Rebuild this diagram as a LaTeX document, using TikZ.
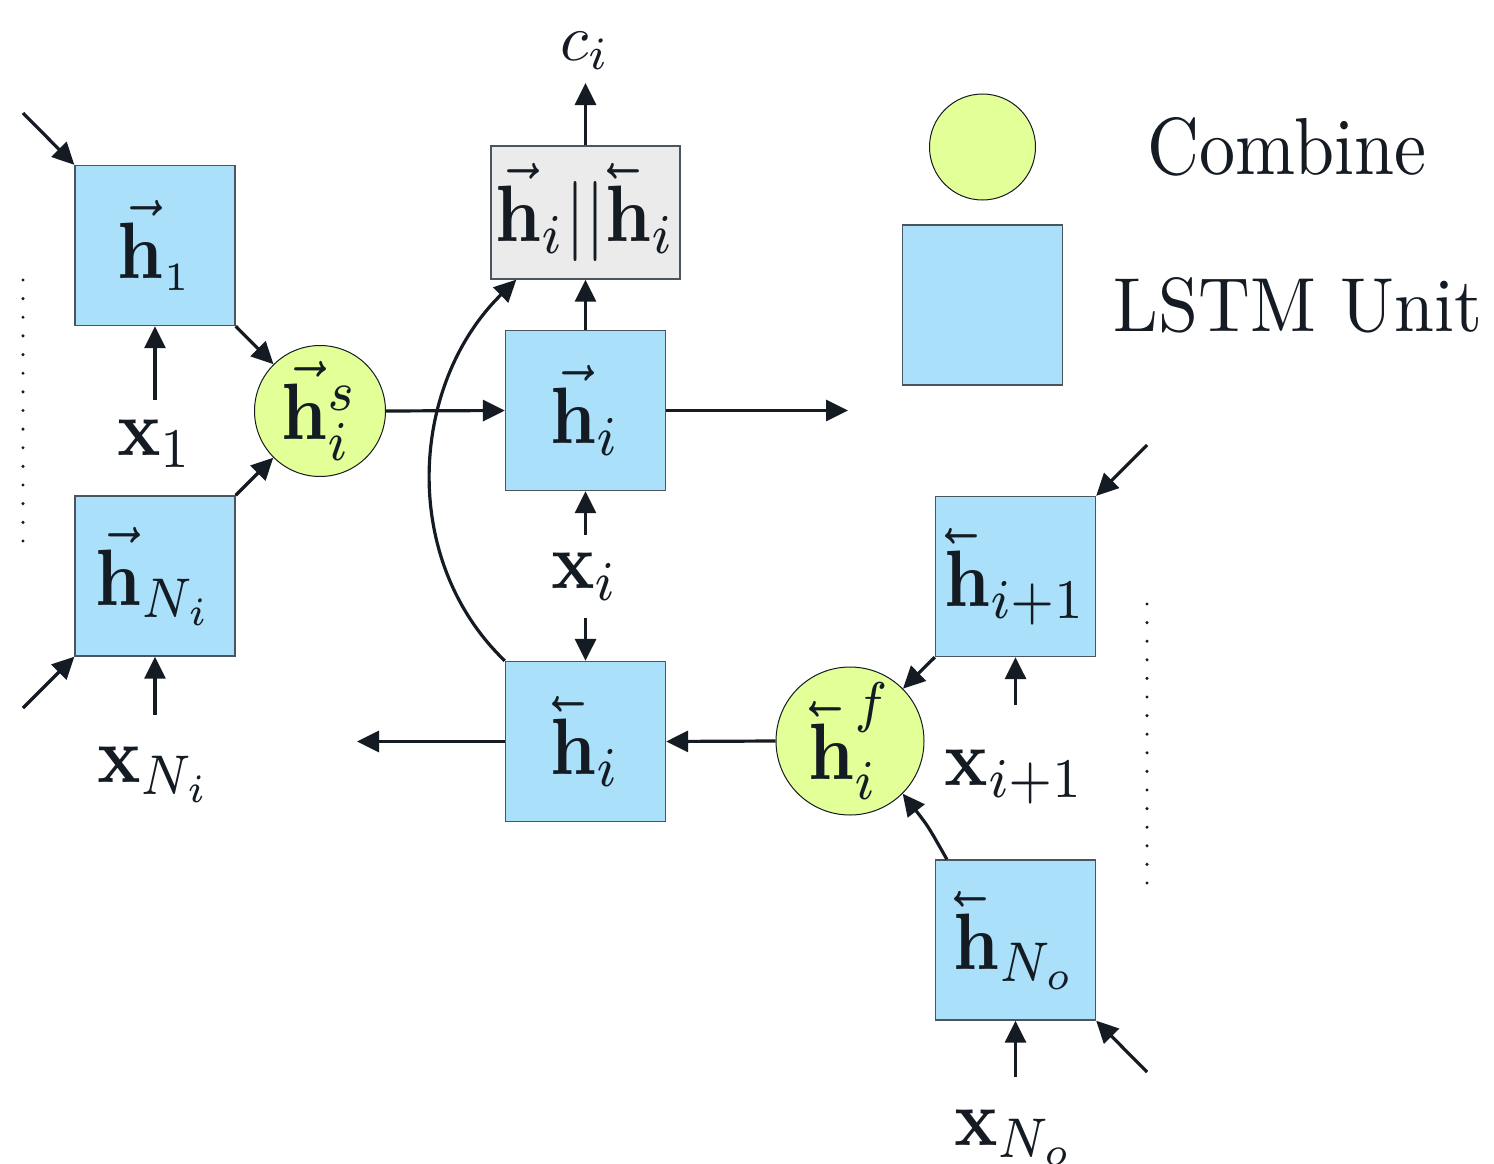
\RequirePackage{fix-cm}
\documentclass[tikz,border=0pt]{standalone}
\usepackage{amsmath}
\usepackage{graphicx}
\usetikzlibrary{arrows.meta}
\definecolor{lstmblue}{RGB}{170,224,250}
\definecolor{combgreen}{RGB}{227,255,152}
\definecolor{catgray}{RGB}{235,235,235}
\definecolor{inkc}{RGB}{20,27,35}
\definecolor{edgegray}{RGB}{75,85,95}
\newcommand{\lv}[1]{\reflectbox{$\vec{\reflectbox{$#1$}}$}}
\newcommand{\mt}[1]{\scalebox{7.2}[8]{$#1$}}
\newcommand{\mtc}[1]{\scalebox{6.5}[6.6]{$#1$}}
\newcommand{\diagfont}{\fontsize{10}{12}\selectfont}
\tikzset{
  lstm/.style={draw=edgegray, line width=1.3pt, fill=lstmblue, minimum width=160pt,
    minimum height=160pt, inner sep=0pt, font=\diagfont, text=inkc},
  comb/.style={circle, draw=inkc, line width=1pt, fill=combgreen, inner sep=0pt,
    font=\diagfont, text=inkc},
  lab/.style={inner sep=0pt, font=\diagfont, text=inkc},
  arr/.style={draw=inkc, line width=3.2pt, -{Triangle[length=22pt,width=21pt]}},
}
\begin{document}
\begin{tikzpicture}[x=1pt,y=-1pt]
\useasboundingbox (0,0) rectangle (1494,1164);
% LSTM units and combine nodes
\node[lstm] (h1) at (155,245.5) {\mt{\vec{\mathbf h}_{\scriptscriptstyle 1}}};
\node[lstm] (hNi) at (155,576) {\mt{\vec{\mathbf h}_{N_i}}};
\node[comb, minimum size=131pt] (hs) at (320,411) {\mt{\vec{\mathbf h}^s_i}};
\node[lstm] (hif) at (585.5,410.5) {\mt{\vec{\mathbf h}_i}};
\node[lstm, fill=catgray, minimum width=189pt, minimum height=133pt] (cat) at (585.5,212.5)
  {\mt{\vec{\mathbf h}_i\vert\vert\lv{\mathbf h}_i}};
\node[lstm] (hib) at (585.5,741.5) {\mt{\lv{\mathbf h}_i}};
\node[comb, minimum size=148pt] (hf) at (850,741) {\mt{\lv{\mathbf h}^f_i}};
\node[lstm] (hip) at (1015.5,576.5) {\mt{\lv{\mathbf h}_{i+1}}};
\node[lstm] (hNo) at (1015.5,940) {\mt{\lv{\mathbf h}_{N_o}}};
% input / output labels
\node[lab, anchor=base] (x1) at (155,455) {\mt{\mathbf x_1}};
\node[lab, anchor=base] (xNi) at (155,782) {\mt{\mathbf x_{N_i}}};
\node[lab, anchor=base] (xi) at (585,588) {\mt{\mathbf x_i}};
\node[lab, anchor=base] (xip) at (1015,785) {\mt{\mathbf x_{i+1}}};
\node[lab, anchor=base] (xNo) at (1015,1145) {\mt{\mathbf x_{N_o}}};
\node[lab, anchor=base] (ci) at (585,60) {\mtc{c_i}};
% legend
\node[comb, minimum size=106pt] (lc) at (982.5,147) {};
\node[lstm] (lb) at (982.5,305) {};
\node[inner sep=0pt, text=inkc] (tc) at (1287,147) {\resizebox{278pt}{57pt}{Combine}};
\node[inner sep=0pt, text=inkc] (tl) at (1298,305) {\resizebox{368pt}{54pt}{LSTM Unit}};
% free ends
\coordinate (ntl) at (23,113);
\coordinate (nbl) at (23,708);
\coordinate (x1a) at (155,400);
\coordinate (xNia) at (155,715);
\coordinate (fo) at (848,410.5);
\coordinate (co) at (585.5,83);
\coordinate (xiu) at (585.5,535);
\coordinate (xid) at (585.5,618);
\coordinate (bo) at (357,741.5);
\coordinate (xipa) at (1015.5,705);
\coordinate (ntr) at (1147,445);
\coordinate (xNoa) at (1015.5,1077);
\coordinate (nbr) at (1147,1072);
% connectors
\draw[arr] (ntl) -- (h1.north west);
\draw[arr] (nbl) -- (hNi.south west);
\draw[arr] (h1.south east) -- (hs);
\draw[arr] (hNi.north east) -- (hs);
\draw[arr] (x1a) -- (h1.south);
\draw[arr] (xNia) -- (hNi.south);
\draw[arr] (hs.east) -- (hif.west);
\draw[arr] (hif.east) -- (fo);
\draw[arr] (hif.north) -- (cat.south);
\draw[arr] (cat.north) -- (co);
\draw[arr] (xiu) -- (hif.south);
\draw[arr] (xid) -- (hib.north);
\draw[arr] (hib.north west) .. controls (399,559) and (410,384) .. ([xshift=26pt]cat.south west);
\draw[arr] (hf.west) -- (hib.east);
\draw[arr] (hib.west) -- (bo);
\draw[arr] (hip.south west) -- (hf);
\draw[arr] (xipa) -- (hip.south);
\draw[arr] (ntr) -- (hip.north east);
\draw[arr] ([xshift=12pt]hNo.north west) .. controls (928,826) .. (hf.-45);
\draw[arr] (xNoa) -- (hNo.south);
\draw[arr] (nbr) -- (hNo.south east);
% dotted ellipses
\foreach \k in {0,...,14} \fill[inkc] (23,{280+\k*18.64}) circle (1.7pt);
\foreach \k in {0,...,15} \fill[inkc] (1147,{604+\k*18.6}) circle (1.7pt);
\end{tikzpicture}
\end{document}
